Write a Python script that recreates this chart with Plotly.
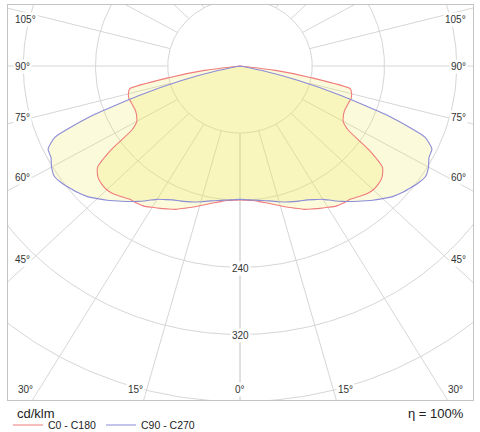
import numpy as np
import plotly.graph_objects as go

# ---- data ----
gamma_deg = [0, 2.5, 5, 7.5, 10, 12.5, 15, 17.5, 20, 22.5, 25, 27.5, 30, 32.5, 35, 37.5,
             40, 42.5, 45, 47.5, 50, 52.5, 55, 57.5, 60, 62.5, 65, 67.5, 70, 72.5, 75,
             77.5, 80, 82.5, 85, 87.5, 90]
i_c0_c180 = [159.7, 160, 161, 163, 165.5, 168.8, 172.5, 176.5, 180.5, 185, 188, 191.3,
             194.5, 198, 199.5, 200.2, 203.5, 207, 208.6, 208, 205.5, 199, 174, 142, 132,
             129, 127.5, 127.5, 128, 129, 128, 125, 80, 38, 0, 0, 0]
i_c90_c270 = [159, 159.5, 160.3, 161.5, 163, 165, 167.5, 170, 172, 174, 176, 179.5, 183.5,
              190, 197, 203.5, 210, 217, 223.5, 230, 234.5, 238.3, 242, 244, 241, 236,
              234.5, 222, 177, 118, 67, 25, 0, 0, 0, 0, 0]
circle_values = [80, 160, 240, 320, 400]
circle_labels = ["240", "320"]
spoke_angles = list(range(0, 181, 15))
angle_labels_side = [105, 90, 75, 60, 45, 30, 15, 0]

# ---- helpers ----
def full_curve(g, vals):
    g = np.array(g, dtype=float)
    v = np.array(vals, dtype=float)
    gg = np.concatenate([-g[::-1], g[1:]])
    vv = np.concatenate([v[::-1], v[1:]])
    rad = np.radians(gg)
    return vv * np.sin(rad), -vv * np.cos(rad)

# grid
gx, gy = [], []
t = np.linspace(0, 2 * np.pi, 361)
for r in circle_values:
    gx += list(r * np.sin(t)) + [None]
    gy += list(r * np.cos(t)) + [None]
for a in spoke_angles:
    for s in (-1, 1):
        rad = np.radians(a)
        gx += [s * 80 * np.sin(rad), s * 800 * np.sin(rad), None]
        gy += [-80 * np.cos(rad), -800 * np.cos(rad), None]

fig = go.Figure()
fig.add_trace(go.Scatter(x=gx, y=gy, mode="lines", line=dict(color="#d6d6d6", width=1),
                         hoverinfo="skip", showlegend=False))

fill_col = "rgba(235,230,85,0.22)"
xr, yr = full_curve(gamma_deg, i_c0_c180)
xb, yb = full_curve(gamma_deg, i_c90_c270)
for xx, yy in ((xb, yb), (xr, yr)):
    fig.add_trace(go.Scatter(x=xx, y=yy, mode="lines", fill="toself", fillcolor=fill_col,
                             line=dict(width=0, shape="spline", smoothing=0.5),
                             hoverinfo="skip", showlegend=False))
fig.add_trace(go.Scatter(x=xr, y=yr, mode="lines", name="C0 - C180",
                         line=dict(color="#f07c7c", width=1.1, shape="spline", smoothing=0.5)))
fig.add_trace(go.Scatter(x=xb, y=yb, mode="lines", name="C90 - C270",
                         line=dict(color="#8c8cd8", width=1.1, shape="spline", smoothing=0.5)))

# pixel geometry of reference: centre (240,66), 0.903 px/unit horiz, 0.839 px/unit vert
SX, SY, CX, CY = 0.903, 0.839, 240, 66
def px2d(px, py):
    return (px - CX) / SX, (CY - py) / SY

ann = []
lab_font = dict(family="Liberation Sans, Arial", size=10, color="#333333")
for txt, py in zip(circle_labels, [268, 335]):
    x, y = px2d(240, py)
    ann.append(dict(x=x, y=y, text=txt, showarrow=False, font=lab_font, bgcolor="white",
                    borderpad=1))
left_pos = {105: (25, 19), 90: (22, 66), 75: (22, 117), 60: (22, 177), 45: (22, 259),
            30: (25, 389), 15: (135, 389), 0: (240, 389)}
for a in angle_labels_side:
    px, py = left_pos[a]
    for side in ([-1, 1] if a != 0 else [1]):
        qx = px if side < 0 else 480 - px
        x, y = px2d(qx, py)
        ann.append(dict(x=x, y=y, text=f"{a}°", showarrow=False, font=lab_font,
                        bgcolor="white", borderpad=1))

ann.append(dict(xref="paper", yref="paper", x=(15 - 8) / 465, y=(400 - 413) / 395,
                xanchor="left", yanchor="middle", text="cd/klm", showarrow=False,
                font=dict(family="Liberation Sans, Arial", size=13, color="#222222")))
ann.append(dict(xref="paper", yref="paper", x=(466 - 8) / 465, y=(400 - 413) / 395,
                xanchor="right", yanchor="middle", text="η = 100%", showarrow=False,
                font=dict(family="Liberation Sans, Arial", size=13, color="#222222")))

x0, _ = px2d(8, 0)
x1, _ = px2d(473, 0)
_, y0 = px2d(0, 400)
_, y1 = px2d(0, 5)

fig.update_layout(
    width=480, height=432,
    margin=dict(l=8, r=7, t=5, b=32, autoexpand=False),
    paper_bgcolor="white", plot_bgcolor="white",
    xaxis=dict(range=[x0, x1], showgrid=False, zeroline=False, showticklabels=False,
               ticks="", showline=True, mirror=True, linecolor="#c4c4c4", linewidth=1,
               fixedrange=True),
    yaxis=dict(range=[y0, y1], showgrid=False, zeroline=False, showticklabels=False,
               ticks="", showline=True, mirror=True, linecolor="#c4c4c4", linewidth=1,
               fixedrange=True),
    annotations=ann,
    showlegend=True,
    legend=dict(orientation="h", x=0, xanchor="left", y=(400 - 425) / 395,
                yanchor="middle", font=dict(family="Liberation Sans, Arial", size=10.5,
                                            color="#222222"),
                bgcolor="rgba(0,0,0,0)", itemwidth=30, tracegroupgap=0),
    hovermode=False,
)
fig.write_html("out.html", config={"displayModeBar": False},
               post_script="document.body.style.margin='0';")
